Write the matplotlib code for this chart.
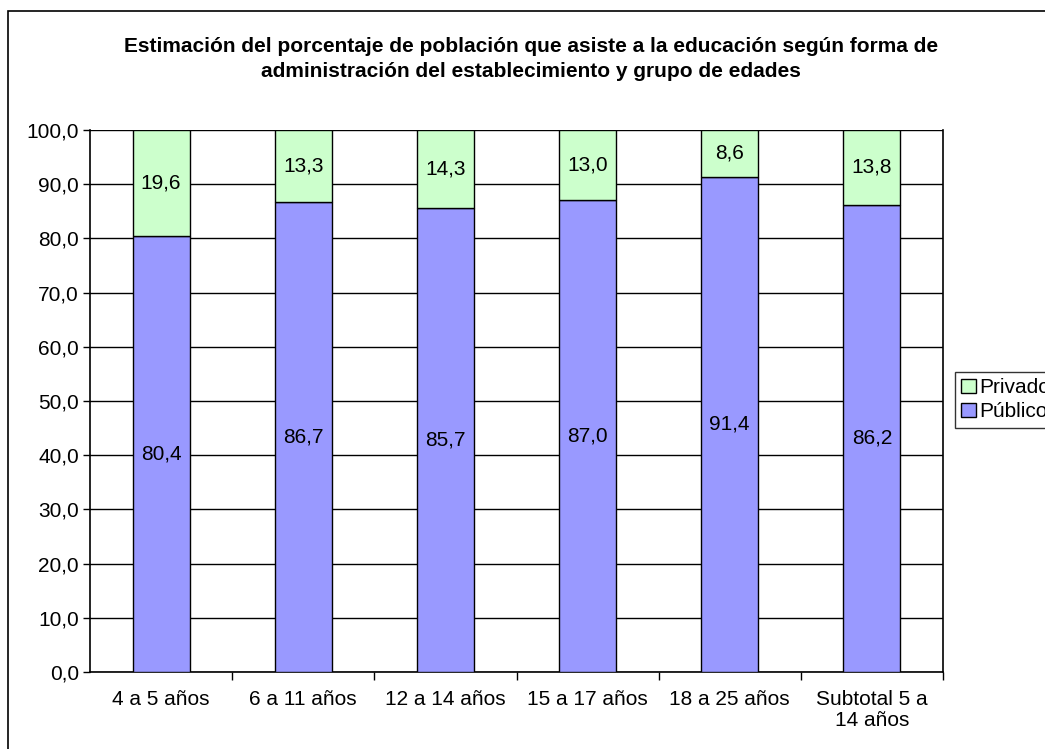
import matplotlib
matplotlib.use("Agg")
import matplotlib.pyplot as plt
from matplotlib.patches import Rectangle, Patch

categories = ["4 a 5 años", "6 a 11 años", "12 a 14 años", "15 a 17 años",
              "18 a 25 años", "Subtotal 5 a\n14 años"]
publico = [80.4, 86.7, 85.7, 87.0, 91.4, 86.2]
privado = [19.6, 13.3, 14.3, 13.0, 8.6, 13.8]
yticks = [0, 10, 20, 30, 40, 50, 60, 70, 80, 90, 100]

plt.rcParams["font.family"] = ["Liberation Sans", "DejaVu Sans"]
FS = 15

W, H = 1045, 749
fig = plt.figure(figsize=(W / 100, H / 100), dpi=100)
# outer chart border (runs off the right/bottom edge in the reference)
fig.patches.append(Rectangle((8 / W, -0.05), 1.2, 1 - 11 / H + 0.05,
                             transform=fig.transFigure, fill=False,
                             edgecolor="black", linewidth=1.2))

ax = fig.add_axes([90 / W, 1 - 672 / H, (943 - 90) / W, (672 - 130) / H])
x = range(len(categories))
ax.bar(x, publico, width=0.4, color="#9999FF", edgecolor="black", linewidth=1, zorder=3)
ax.bar(x, privado, width=0.4, bottom=publico, color="#CCFFCC", edgecolor="black",
       linewidth=1, zorder=3)

for i in x:
    ax.text(i, publico[i] / 2, f"{publico[i]:.1f}".replace(".", ","), ha="center",
            va="center", fontsize=FS, zorder=4)
    ax.text(i, publico[i] + privado[i] / 2, f"{privado[i]:.1f}".replace(".", ","),
            ha="center", va="center", fontsize=FS, zorder=4)

ax.set_xlim(-0.5, len(categories) - 0.5)
ax.set_ylim(0, 100)
ax.set_yticks(yticks)
ax.set_yticklabels([f"{v:.1f}".replace(".", ",") for v in yticks], fontsize=FS)
ax.yaxis.grid(True, color="black", linewidth=1, zorder=0)
ax.set_xticks([i + 0.5 for i in range(len(categories))], minor=False)
ax.set_xticklabels([])
ax.set_xticks(list(x), minor=True)
ax.set_xticklabels(categories, minor=True, fontsize=FS, linespacing=1.1)
ax.tick_params(axis="x", which="minor", length=0, pad=13)
ax.tick_params(axis="x", which="major", length=6, direction="out", width=1)
ax.tick_params(axis="y", length=5, direction="out", width=1, pad=3)
ax.spines["top"].set_visible(False)
for s in ["left", "bottom", "right"]:
    ax.spines[s].set_linewidth(1.2)

fig.text(531 / W, 1 - 59 / H,
         "Estimación del porcentaje de población que asiste a la educación según forma de\n"
         "administración del establecimiento y grupo de edades",
         ha="center", va="center", fontsize=FS, fontweight="bold", linespacing=1.45)

handles = [Patch(facecolor="#CCFFCC", edgecolor="black"),
           Patch(facecolor="#9999FF", edgecolor="black")]
leg = fig.legend(handles, ["Privado", "Público"], loc="upper left",
                 bbox_to_anchor=(955 / W, 1 - 372 / H), fontsize=FS,
                 frameon=True, fancybox=False, edgecolor="black",
                 handlelength=0.7, handleheight=0.7, handletextpad=0.15,
                 borderpad=0.3, labelspacing=0.25, borderaxespad=0)
leg.get_frame().set_linewidth(1)

fig.savefig("out.png", dpi=100)
